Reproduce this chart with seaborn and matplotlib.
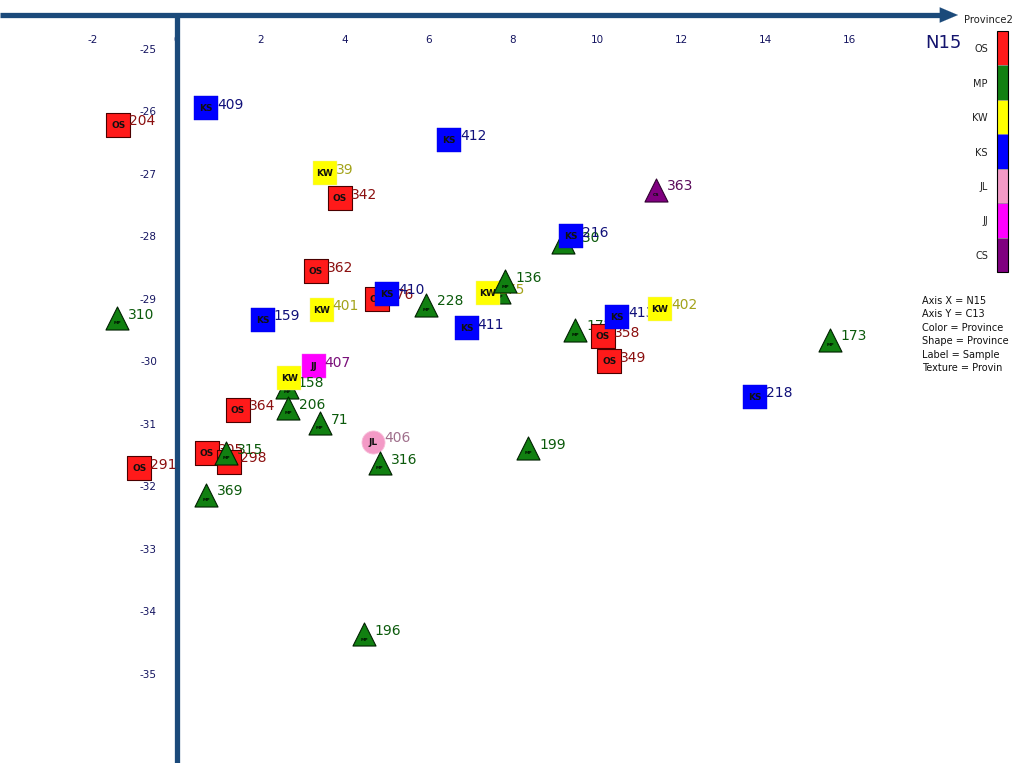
import matplotlib
matplotlib.use("Agg")
import matplotlib.pyplot as plt
from matplotlib.patches import Rectangle
import seaborn as sns
import pandas as pd

# ---------------- data ----------------
provinces = ["OS", "KS", "KS", "KW", "OS", "CS", "MP", "KS", "OS", "MP",
             "OS", "KS", "MP", "KS", "KW", "MP", "KW", "MP", "KS", "MP",
             "OS", "KS", "OS", "KW", "MP", "KS", "JJ", "MP", "KW", "OS",
             "MP", "MP", "JL", "MP", "MP", "OS", "OS", "MP", "OS", "MP", "MP"]
n15 = [-1.40, 0.69, 6.48, 3.52, 3.88, 11.40, 9.19, 9.38, 3.31, -1.43,
       4.76, 5.00, 5.93, 2.05, 3.45, 7.67, 7.40, 7.81, 6.90, 9.48,
       10.14, 10.48, 10.29, 11.50, 15.55, 13.76, 3.26, 2.62, 2.67, 1.45,
       2.64, 3.40, 4.67, 4.83, 8.36, 0.71, 1.24, 1.17, -0.90, 0.69, 4.45]
c13 = [-26.20, -25.93, -26.44, -26.97, -27.37, -27.24, -28.07, -27.98, -28.54, -29.29,
       -28.98, -28.90, -29.08, -29.32, -29.16, -28.87, -28.89, -28.70, -29.45, -29.48,
       -29.58, -29.27, -29.98, -29.14, -29.64, -30.55, -30.06, -30.39, -30.25, -30.76,
       -30.73, -30.97, -31.27, -31.61, -31.37, -31.45, -31.59, -31.45, -31.69, -32.12, -34.35]
samples = ["204", "409", "412", "39", "342", "363", "130", "216", "362", "310",
           "376", "410", "228", "159", "401", "", "175", "136", "411", "172",
           "358", "413", "349", "402", "173", "218", "407", "158", "", "364",
           "206", "71", "406", "316", "199", "305", "298", "315", "291", "369", "196"]

legend_order = ["OS", "MP", "KW", "KS", "JL", "JJ", "CS"]
x_ticks = [-2, 0, 2, 4, 6, 8, 10, 12, 14, 16]
y_ticks = [-25, -26, -27, -28, -29, -30, -31, -32, -33, -34, -35]
info_lines = ["Axis X = N15", "Axis Y = C13", "Color = Province",
              "Shape = Province", "Label = Sample", "Texture = Provin"]

# ---------------- styles ----------------
palette = {"OS": "#FF1A1A", "MP": "#118011", "KW": "#FFFF00", "KS": "#0000FF",
           "JL": "#F39AC6", "JJ": "#FF00FF", "CS": "#800080"}
label_colors = {"OS": "#8B0F0F", "MP": "#0B5A0B", "KW": "#A3A31A", "KS": "#10107A",
                "JL": "#A0708C", "JJ": "#7A107A", "CS": "#5A0A5A"}
markers = {"OS": "s", "MP": "^", "KW": "s", "KS": "s", "JL": "o", "JJ": "s", "CS": "^"}
edges = {"OS": ("#4A0000", 0.8), "MP": ("#002000", 0.8), "KW": ("#F0F0A0", 0.3),
         "KS": ("#0000E0", 0.3), "JL": ("#F8C0DA", 0.6), "JJ": ("#F060F0", 0.3),
         "CS": ("#300030", 0.8)}

df = pd.DataFrame({"Province": provinces, "N15": n15, "C13": c13, "Sample": samples})

sns.set_style("white")
plt.rcParams["font.family"] = ["DejaVu Sans"]

W, H = 1018, 763
fig = plt.figure(figsize=(W / 100, H / 100), dpi=100)
ax = fig.add_axes([0, 0, 1, 1])

# pixel mapping: x = (px-177)/42, y = -25 - (py-50)/62.5
xlim = (-177 / 42, (W - 177) / 42)
ylim = (-25 - (H - 50) / 62.5, -25 + 50 / 62.5)

for i in range(len(df)):
    row = df.iloc[[i]]
    p = df.Province.iloc[i]
    ec, lw = edges[p]
    z = 3 + 2 * i
    sns.scatterplot(data=row, x="N15", y="C13", hue="Province", style="Province",
                    hue_order=legend_order, style_order=legend_order,
                    palette=palette, markers=markers, s=275,
                    edgecolor=ec, linewidth=lw, legend=False, zorder=z, ax=ax)
    xv, yv = df.N15.iloc[i], df.C13.iloc[i]
    if p == "MP" or p == "CS":
        ax.annotate("MP" if p == "MP" else "CS", (xv, yv), xytext=(0, -3.8),
                    textcoords="offset points", ha="center", va="center",
                    fontsize=3.2, fontweight="bold", color="#001000", zorder=z + 0.3)
    else:
        ax.annotate(p, (xv, yv), xytext=(0, -0.5), textcoords="offset points",
                    ha="center", va="center", fontsize=6.5, fontweight="bold",
                    color="#101010", zorder=z + 0.3)
    ax.annotate(df.Sample.iloc[i], (xv, yv), xytext=(7.8, 2.6),
                textcoords="offset points", ha="left", va="center",
                fontsize=10, color=label_colors[p], zorder=z + 0.6)

ax.set_xlim(*xlim)
ax.set_ylim(*ylim)
ax.set_axis_off()

axis_col = "#1B4A7A"
y_axis_line = -25 + 35 / 62.5
x_arrow_end = (958 - 177) / 42
# vertical axis at x=0
ax.plot([0, 0], [ylim[0], y_axis_line], color=axis_col, lw=3.8, zorder=1,
        solid_capstyle="butt")
# horizontal axis with arrow
ax.plot([xlim[0], x_arrow_end - 0.4], [y_axis_line, y_axis_line], color=axis_col,
        lw=3.8, zorder=1, solid_capstyle="butt")
ax.annotate("", xy=(x_arrow_end, y_axis_line), xytext=(x_arrow_end - 0.45, y_axis_line),
            arrowprops=dict(arrowstyle="-|>,head_length=1.3,head_width=0.55",
                            color=axis_col, lw=0.1, shrinkA=0, shrinkB=0), zorder=1)

tick_col = "#141460"
for t in x_ticks:
    ax.text(t, -25 + 10 / 62.5, str(t), ha="center", va="center",
            fontsize=7.5, color=tick_col, zorder=0.5)
for t in y_ticks:
    ax.text(-20 / 42, t, str(t), ha="right", va="center",
            fontsize=7.5, color=tick_col, zorder=0.5)

# ---------------- legend (colour bar) ----------------
bx0, by0, bw, bh = 997, 31, 11, 241
seg = bh / len(legend_order)
for k, lab in enumerate(legend_order):
    top = by0 + k * seg
    fig.patches.append(Rectangle((bx0 / W, 1 - (top + seg) / H), bw / W, seg / H,
                                 transform=fig.transFigure, facecolor=palette[lab],
                                 edgecolor="#909090", lw=0.4))
    fig.text(988 / W, 1 - (top + seg / 2 + 1) / H, lab, ha="right", va="center",
             fontsize=7, color="#202020")
fig.patches.append(Rectangle((bx0 / W, 1 - (by0 + bh) / H), bw / W, bh / H,
                             transform=fig.transFigure, facecolor="none",
                             edgecolor="#000000", lw=0.8))
fig.text(988 / W, 1 - 20 / H, "Province2", ha="center", va="center",
         fontsize=7.2, color="#202020")
fig.text(943 / W, 1 - 43 / H, "N15", ha="center", va="center",
         fontsize=13, color="#14146E")

for k, line in enumerate(info_lines):
    fig.text(922 / W, 1 - (301 + k * 13.4) / H, line, ha="left", va="center",
             fontsize=7, color="#101010")

fig.savefig("out.png", dpi=100)
